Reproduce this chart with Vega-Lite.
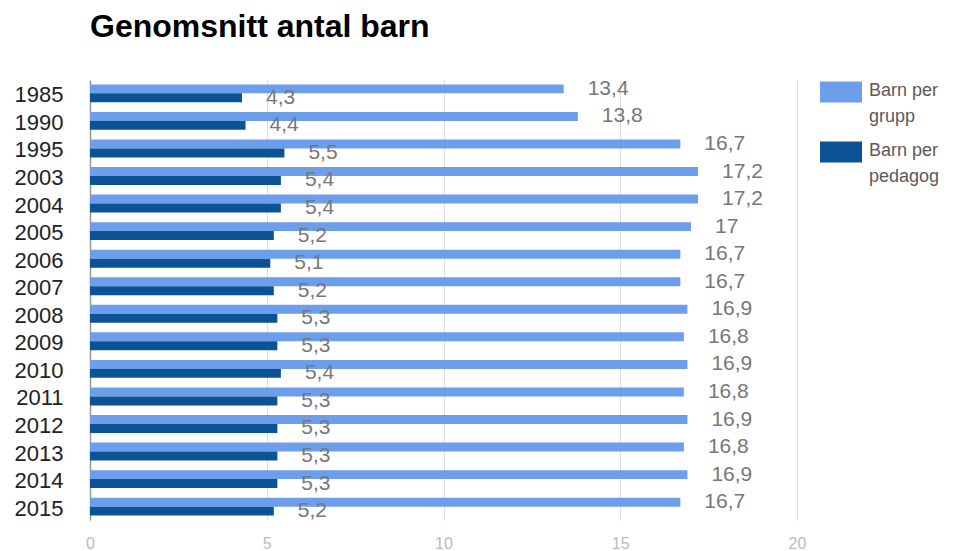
{
  "$schema": "https://vega.github.io/schema/vega-lite/v6.json",
  "width": 707,
  "height": 440,
  "autosize": {"type": "none"},
  "padding": {"left": 90, "top": 80, "right": 156, "bottom": 31},
  "title": {"text": "Genomsnitt antal barn", "anchor": "start", "frame": "group", "font": "Liberation Sans", "fontSize": 32, "fontWeight": "bold", "color": "#000000", "offset": 27},
  "config": {
    "view": {"stroke": null},
    "locale": {"number": {"decimal": ",", "thousands": " ", "grouping": [3], "currency": ["", " kr"]}}
  },
  "data": {"values": [
    {"year": "1985", "series": "Barn per grupp", "value": 13.4},
    {"year": "1985", "series": "Barn per pedagog", "value": 4.3},
    {"year": "1990", "series": "Barn per grupp", "value": 13.8},
    {"year": "1990", "series": "Barn per pedagog", "value": 4.4},
    {"year": "1995", "series": "Barn per grupp", "value": 16.7},
    {"year": "1995", "series": "Barn per pedagog", "value": 5.5},
    {"year": "2003", "series": "Barn per grupp", "value": 17.2},
    {"year": "2003", "series": "Barn per pedagog", "value": 5.4},
    {"year": "2004", "series": "Barn per grupp", "value": 17.2},
    {"year": "2004", "series": "Barn per pedagog", "value": 5.4},
    {"year": "2005", "series": "Barn per grupp", "value": 17},
    {"year": "2005", "series": "Barn per pedagog", "value": 5.2},
    {"year": "2006", "series": "Barn per grupp", "value": 16.7},
    {"year": "2006", "series": "Barn per pedagog", "value": 5.1},
    {"year": "2007", "series": "Barn per grupp", "value": 16.7},
    {"year": "2007", "series": "Barn per pedagog", "value": 5.2},
    {"year": "2008", "series": "Barn per grupp", "value": 16.9},
    {"year": "2008", "series": "Barn per pedagog", "value": 5.3},
    {"year": "2009", "series": "Barn per grupp", "value": 16.8},
    {"year": "2009", "series": "Barn per pedagog", "value": 5.3},
    {"year": "2010", "series": "Barn per grupp", "value": 16.9},
    {"year": "2010", "series": "Barn per pedagog", "value": 5.4},
    {"year": "2011", "series": "Barn per grupp", "value": 16.8},
    {"year": "2011", "series": "Barn per pedagog", "value": 5.3},
    {"year": "2012", "series": "Barn per grupp", "value": 16.9},
    {"year": "2012", "series": "Barn per pedagog", "value": 5.3},
    {"year": "2013", "series": "Barn per grupp", "value": 16.8},
    {"year": "2013", "series": "Barn per pedagog", "value": 5.3},
    {"year": "2014", "series": "Barn per grupp", "value": 16.9},
    {"year": "2014", "series": "Barn per pedagog", "value": 5.3},
    {"year": "2015", "series": "Barn per grupp", "value": 16.7},
    {"year": "2015", "series": "Barn per pedagog", "value": 5.2}
  ]},
  "encoding": {
    "y": {
      "field": "year", "type": "nominal", "sort": null,
      "scale": {"paddingInner": 0.35, "paddingOuter": 0.16},
      "axis": {"title": null, "ticks": false, "domain": true, "domainColor": "#999999", "domainWidth": 1.5, "labelFont": "Liberation Sans", "labelFontSize": 22, "labelColor": "#222222", "labelPadding": 27, "labelOffset": 2}
    },
    "yOffset": {
      "field": "series", "type": "nominal", "sort": ["Barn per grupp", "Barn per pedagog"],
      "scale": {"paddingInner": 0, "paddingOuter": 0}
    },
    "x": {
      "field": "value", "type": "quantitative",
      "scale": {"domain": [0, 20], "nice": false},
      "axis": {"title": null, "domain": false, "ticks": false, "grid": true, "gridColor": "#dddddd", "values": [0, 5, 10, 15, 20], "labelFont": "Liberation Sans", "labelFontSize": 16, "labelColor": "#bbbbbb", "labelPadding": 15, "labelFlush": false}
    }
  },
  "layer": [
    {
      "mark": {"type": "bar"},
      "encoding": {
        "color": {
          "field": "series", "type": "nominal",
          "scale": {"domain": ["Barn per grupp", "Barn per pedagog"], "range": ["#6d9eeb", "#0b5394"]},
          "legend": {
            "title": null, "orient": "none", "legendX": 730, "legendY": -9,
            "symbolType": "M-1,-0.5H1V0.5H-1Z", "symbolSize": 1764, "symbolStrokeWidth": 0, "symbolOpacity": 1,
            "labelFont": "Liberation Sans", "labelFontSize": 18, "labelColor": "#5a5a5a", "labelOffset": 7, "labelBaseline": "top", "labelLimit": 200,
            "rowPadding": 5,
            "labelExpr": "datum.label == 'Barn per grupp' ? ['Barn per', 'grupp'] : ['Barn per', 'pedagog']",
            "encode": {"labels": {"update": {"dy": {"value": -10}, "lineHeight": {"value": 26}}}}
          }
        }
      }
    },
    {
      "mark": {"type": "text", "align": "left", "baseline": "middle", "dx": 24, "font": "Liberation Sans", "fontSize": 21, "color": "#777777"},
      "encoding": {"text": {"field": "value", "type": "quantitative", "format": "~g"}}
    }
  ]
}
